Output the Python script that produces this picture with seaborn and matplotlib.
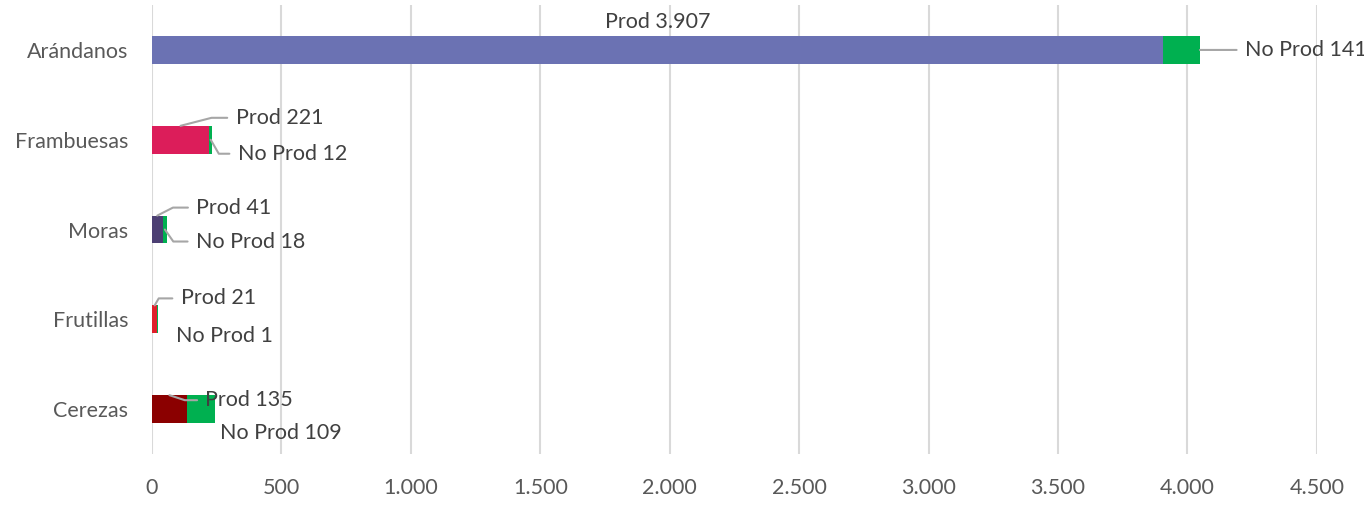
import pandas as pd
import matplotlib
matplotlib.use("Agg")
import matplotlib.pyplot as plt
import seaborn as sns
from matplotlib.ticker import FuncFormatter

# --- datos ---
frutas = ["Arándanos", "Frambuesas", "Moras", "Frutillas", "Cerezas"]
prod = [3907, 221, 41, 21, 135]
no_prod = [141, 12, 18, 1, 109]
colores_prod = ["#6B72B3", "#DC1D5A", "#4C3F73", "#E01F2B", "#8B0000"]
color_no_prod = "#00B050"

df = pd.DataFrame({"fruta": frutas, "prod": prod, "no_prod": no_prod})
df["total"] = df["prod"] + df["no_prod"]

# posiciones de etiquetas (px desde el ancla; dy positivo = arriba) y ángulo del conector
# (ancla, dx, dy, angulo, ha) ; angulo None = sin conector
etq_prod = [("centro", 0, 28, None, "center"),
            ("centro_top", 55, 8, 14.5, "left"),
            ("centro_top", 39, 8, 27, "left"),
            ("centro_top", 26, 7, 60, "left"),
            ("centro_top", 36, -5, -18, "left")]
etq_no = [("fin", 45, 0, 0, "left"),
          ("centro", 27, -14, -60, "left"),
          ("centro", 31, -12, -55, "left"),
          ("centro", 18, -17, None, "left"),
          ("centro", 19, -24, None, "left")]

sns.set_theme(style="white")
plt.rcParams["font.family"] = ["Lato", "DejaVu Sans"]

fig = plt.figure(figsize=(13.64, 5.05), dpi=100)
ax = fig.add_axes([0.1114, 0.101, 0.8541, 0.889])

ancho = 0.31
sns.barplot(data=df, x="total", y="fruta", color=color_no_prod, width=ancho,
            orient="h", ax=ax, saturation=1, linewidth=0)
sns.barplot(data=df, x="prod", y="fruta", hue="fruta", palette=colores_prod,
            width=ancho, orient="h", ax=ax, saturation=1, legend=False, linewidth=0)

ax.set_xlim(0, 4500)
ax.set_ylim(4.5, -0.5)
ax.set_xticks(range(0, 4501, 500))
ax.xaxis.set_major_formatter(FuncFormatter(lambda v, p: f"{int(v):,}".replace(",", ".")))
ax.grid(axis="x", color="#D9D9D9", linewidth=1.5)
ax.set_axisbelow(True)
for s in ax.spines.values():
    s.set_visible(False)
ax.set_xlabel("")
ax.set_ylabel("")
ax.tick_params(axis="both", length=0, labelsize=15.5, colors="#595959")
ax.tick_params(axis="y", pad=17)
ax.tick_params(axis="x", pad=17)

PX = 0.72  # px -> pt a 100 dpi


def etiqueta(texto, x, y, dx, dy, ang, ha):
    kw = dict(xy=(x, y), xytext=(dx * PX, dy * PX), textcoords="offset points",
              ha=ha, va="center", fontsize=15.5, color="#404040")
    if ang is not None:
        if ang == 0:
            cs = "arc3,rad=0"
        else:
            cs = f"angle,angleA=0,angleB={ang},rad=0"
        kw["arrowprops"] = dict(arrowstyle="-", color="#A6A6A6", lw=1.5,
                                connectionstyle=cs, relpos=(0, 0.5),
                                patchA=None, shrinkA=6, shrinkB=0)
    ax.annotate(texto, **kw)


for i, fila in df.iterrows():
    p, n = fila["prod"], fila["no_prod"]
    a, dx, dy, ang, ha = etq_prod[i]
    etiqueta(f"Prod {p:,}".replace(",", "."), p / 2, i - ancho / 2 if a == "centro_top" else i,
             dx, dy, ang, ha)
    a, dx, dy, ang, ha = etq_no[i]
    xa = p + n if a == "fin" else p + n / 2
    etiqueta(f"No Prod {n:,}".replace(",", "."), xa, i, dx, dy, ang, ha)

fig.savefig("out.png", dpi=100)
